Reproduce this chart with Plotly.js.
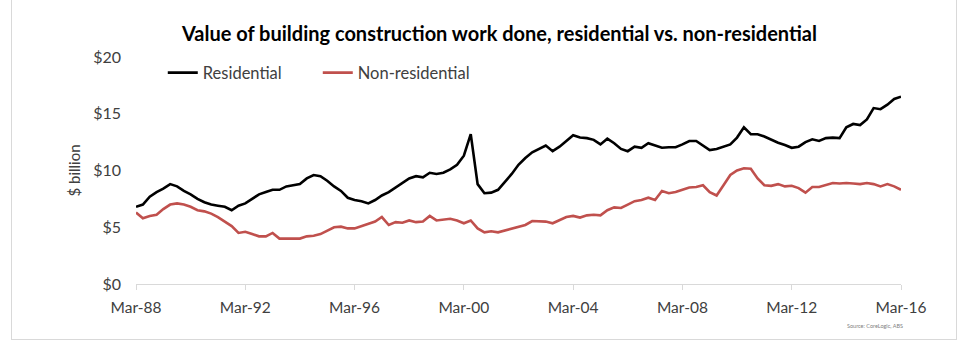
<!DOCTYPE html>
<html>
<head>
<meta charset="utf-8">
<script src="https://cdn.plot.ly/plotly-3.0.1.min.js"></script>
<style>
  html, body { margin: 0; padding: 0; background: #fff; }
  #frame { position: absolute; left: 11px; top: -1px; width: 944px; height: 339px; border: 1px solid #d9d9d9; }
  #chart { position: absolute; left: 0; top: 0; width: 966px; height: 354px; }
</style>
</head>
<body>
<div id="frame"></div>
<div id="chart"></div>
<script>
// Quarterly data, Mar-88 .. Mar-16 ($ billion)
const startYear = 1988;
const residential = [
  6.8,7.0,7.7,8.1,8.4,8.8,8.6,8.2,7.9,7.5,7.2,7.0,6.9,6.8,6.5,6.9,7.1,
  7.5,7.9,8.1,8.3,8.3,8.6,8.7,8.8,9.3,9.6,9.5,9.1,8.6,8.2,7.6,7.4,7.3,7.1,7.4,7.8,
  8.1,8.5,8.9,9.3,9.5,9.4,9.8,9.7,9.8,10.1,10.5,11.3,13.2,8.8,8.0,8.05,8.3,9.0,9.7,
  10.5,11.1,11.6,11.9,12.2,11.7,12.1,12.6,13.1,12.9,12.85,12.7,12.3,12.8,12.4,11.9,11.7,12.1,
  12.0,12.4,12.2,12.0,12.05,12.05,12.3,12.6,12.6,12.2,11.8,11.9,12.1,12.3,12.9,13.8,13.2,13.2,
  13.0,12.7,12.45,12.25,12.0,12.1,12.5,12.75,12.6,12.85,12.9,12.85,13.8,14.1,14.0,14.5,15.5,15.4,15.8,16.3,16.5
];
const nonResidential = [
  6.3,5.8,6.0,6.1,6.6,7.0,7.1,7.0,6.8,6.5,6.4,6.2,5.9,5.5,5.1,4.5,4.6,4.4,4.2,
  4.2,4.5,4.0,4.0,4.05,4.0,4.2,4.25,4.4,4.7,5.0,5.05,4.9,4.9,5.1,5.35,5.5,5.9,
  5.2,5.45,5.4,5.6,5.45,5.5,6.0,5.6,5.7,5.75,5.6,5.35,5.6,4.9,4.55,4.65,4.55,4.7,4.85,
  5.0,5.2,5.55,5.55,5.5,5.35,5.6,5.9,6.0,5.85,6.05,6.1,6.05,6.5,6.75,6.7,7.0,
  7.3,7.4,7.6,7.4,8.2,8.0,8.1,8.3,8.5,8.55,8.7,8.1,7.8,8.7,9.6,10.0,10.2,10.15,9.3,
  8.7,8.65,8.8,8.6,8.65,8.45,8.05,8.55,8.55,8.7,8.9,8.85,8.9,8.85,8.8,8.9,8.8,8.6,8.8,8.6,8.3
];
const tickYears = [1988, 1992, 1996, 2000, 2004, 2008, 2012, 2016];
const tickLabels = ['Mar-88','Mar-92','Mar-96','Mar-00','Mar-04','Mar-08','Mar-12','Mar-16'];
const yTicks = [0, 5, 10, 15, 20];
const yTickLabels = ['$0','$5','$10','$15','$20'];

const quarterMonths = ['03','06','09','12'];
const dates = residential.map((_, i) => {
  const y = startYear + Math.floor(i / 4);
  return y + '-' + quarterMonths[i % 4] + '-01';
});
const tickDates = tickYears.map(y => y + '-03-01');

const FONT = 'Lato, "Open Sans", sans-serif';

const traces = [
  { x: dates, y: residential, name: 'Residential', type: 'scatter', mode: 'lines',
    line: { color: '#000000', width: 2.6 } },
  { x: dates, y: nonResidential, name: 'Non-residential', type: 'scatter', mode: 'lines',
    line: { color: '#c0504d', width: 2.6 } }
];

const layout = {
  width: 966, height: 354,
  paper_bgcolor: 'rgba(0,0,0,0)', plot_bgcolor: 'rgba(0,0,0,0)',
  margin: { l: 136, r: 65, t: 57, b: 70 },
  font: { family: FONT, size: 15, color: '#404040' },
  title: { text: '<b>Value of building construction work done, residential vs. non-residential</b>',
    x: 0.517, xanchor: 'center', y: 0.905, yanchor: 'middle',
    font: { family: FONT, size: 20, color: '#000' } },
  showlegend: true,
  legend: { orientation: 'h', x: 0.035, xanchor: 'left', y: 0.93, yanchor: 'middle',
    entrywidth: 110, entrywidthmode: 'pixels',
    font: { family: FONT, size: 16.5, color: '#404040' }, itemwidth: 30, bgcolor: 'rgba(0,0,0,0)' },
  xaxis: {
    type: 'date', range: [dates[0], dates[dates.length - 1]],
    tickmode: 'array', tickvals: tickDates, ticktext: tickLabels,
    showgrid: false, zeroline: false,
    showline: true, linecolor: '#d9d9d9', linewidth: 1,
    ticks: 'outside', ticklen: 5, tickcolor: '#d9d9d9',
    ticklabelstandoff: 4,
    tickfont: { family: FONT, size: 15.5, color: '#404040' }
  },
  yaxis: {
    range: [0, 20], tickmode: 'array', tickvals: yTicks, ticktext: yTickLabels,
    showgrid: false, zeroline: false, showline: false, ticks: '',
    ticklabelstandoff: 14,
    tickfont: { family: FONT, size: 16, color: '#404040' },
    title: { text: '$ billion', font: { family: FONT, size: 15, color: '#404040' }, standoff: 8 }
  },
  annotations: [
    { text: 'Source: CoreLogic, ABS', xref: 'paper', yref: 'paper', x: 1.005, y: -0.185,
      xanchor: 'right', yanchor: 'middle', showarrow: false,
      font: { family: FONT, size: 5.5, color: '#808080' } }
  ]
};

Plotly.newPlot('chart', traces, layout, { displayModeBar: false, staticPlot: true });
</script>
</body>
</html>
